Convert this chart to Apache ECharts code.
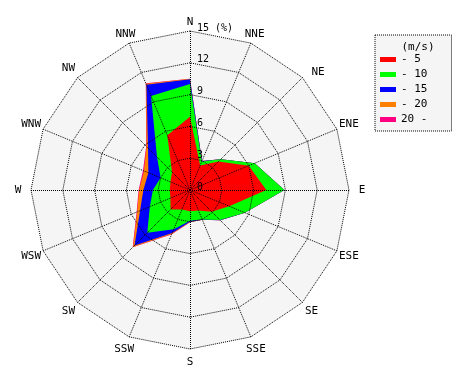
<!DOCTYPE html>
<html><head><meta charset="utf-8">
<script src="https://cdn.jsdelivr.net/npm/echarts@6/dist/echarts.min.js"></script>
<style>html,body{margin:0;padding:0;background:#fff}#c{width:470px;height:380px}</style>
</head><body><div id="c"></div>
<script>
// Compass directions, clockwise from North
const directions = ['N','NNE','NE','ENE','E','ESE','SE','SSE','S','SSW','SW','WSW','W','WNW','NW','NNW'];
const ringTicks = [0, 3, 6, 9, 12, 15];
const speedClasses = ['- 5', '- 10', '- 15', '- 20', '20 -'];
const classColors = ['#ff0000', '#00ff00', '#0000ff', '#ff8000', '#ff0080'];
// Cumulative frequency (%) of wind with speed up to each class limit, per direction
const cumUpTo5  = [6.9, 2.5, 3.8, 6.0, 7.2, 4.0, 2.9, 2.1, 2.0, 2.0, 2.6, 2.0, 1.9, 2.0, 2.4, 5.6];
const cumUpTo10 = [10.0, 2.9, 4.1, 6.6, 8.9, 5.6, 4.0, 3.0, 2.9, 4.0, 5.7, 4.1, 3.5, 3.0, 4.4, 9.6];
const cumUpTo15 = [10.45, 2.95, 4.1, 6.6, 8.9, 5.6, 4.05, 3.05, 3.0, 4.4, 7.4, 5.1, 4.4, 4.25, 5.6, 10.75];
const cumUpTo20 = [10.5, 2.95, 4.1, 6.6, 8.9, 5.6, 4.05, 3.05, 3.05, 4.5, 7.6, 5.4, 4.8, 4.7, 5.8, 10.85];
const cumAll    = [10.5, 2.95, 4.1, 6.6, 8.9, 5.6, 4.05, 3.05, 3.05, 4.55, 7.65, 5.45, 4.85, 4.8, 5.85, 10.9];

const cumulative = [cumUpTo5, cumUpTo10, cumUpTo15, cumUpTo20, cumAll];
const FONT = 'DejaVu Sans Mono';
const rMax = ringTicks[ringTicks.length - 1];
const nSplit = ringTicks.length - 1;

// ECharts radar places indicators counter-clockwise; reorder so compass runs clockwise
const order = directions.map((d, i) => (directions.length - i) % directions.length);

function makeIndicators(mode) {
  return order.map((j, k) => {
    const name = directions[j];
    const ind = { name: name, min: 0, max: rMax };
    if (mode === 'names') {
      ind.nameGap = (name === 'N') ? 9 : (name === 'NNE' || name === 'NNW') ? 10 : 13;
      if (name === 'NE') {
        ind.nameGap = 7;
        ind.nameTextStyle = { align: 'left', padding: [3, 0, 0, 4] };
      }
    }
    if (mode === 'labels' && k === 0) {
      ind.axisLabel = {
        show: true, color: '#000', fontFamily: FONT, fontSize: 10,
        margin: -7, align: 'left', verticalAlign: 'bottom', lineHeight: 6,
        showMinLabel: true, showMaxLabel: true,
        formatter: v => (v === rMax ? v + ' (%)' : String(v))
      };
    }
    return ind;
  });
}

const seriesData = [];
for (let c = cumulative.length - 1; c >= 0; c--) {
  seriesData.push({
    name: speedClasses[c],
    value: order.map(j => cumulative[c][j]),
    itemStyle: { color: classColors[c] },
    lineStyle: { width: 0, color: classColors[c] },
    areaStyle: { color: classColors[c], opacity: 1 },
    symbol: 'none'
  });
}

const dotted = { color: '#000', type: [1, 1], width: 1, cap: 'butt' };
const common = { center: [190, 190], radius: 159, startAngle: 90, shape: 'polygon', splitNumber: nSplit };

const chart = echarts.init(document.getElementById('c'), null, { renderer: 'canvas' });
chart.setOption({
  animation: false,
  backgroundColor: '#fff',
  title: {
    text: '(m/s)', left: 413, top: 37, textAlign: 'center',
    textStyle: { fontFamily: FONT, fontSize: 11, fontWeight: 'normal', color: '#000' }
  },
  legend: {
    orient: 'vertical', left: 375, top: 35,
    data: speedClasses,
    icon: 'rect', itemWidth: 16, itemHeight: 5, itemGap: 4,
    padding: [19, 24, 6, 5],
    backgroundColor: '#f5f5f5', borderColor: '#000', borderWidth: 1, borderType: 'dotted',
    textStyle: { fontFamily: FONT, fontSize: 11, color: '#000' },
    selectedMode: false
  },
  radar: [
    Object.assign({}, common, {
      // background panel (below the data)
      z: 0,
      indicator: makeIndicators('bg'),
      axisName: { show: false },
      axisLine: { show: false },
      splitLine: { show: false },
      splitArea: { show: true, areaStyle: { color: ['#f5f5f5'] } },
      axisLabel: { show: false },
      axisTick: { show: false }
    }),
    Object.assign({}, common, {
      // grid lines and direction names (above the data)
      z: 5,
      indicator: makeIndicators('names'),
      axisName: { color: '#000', fontFamily: FONT, fontSize: 11, align: 'center', verticalAlign: 'middle', padding: [3, 0, 0, 0] },
      axisLine: { show: true, lineStyle: dotted },
      splitLine: { show: true, lineStyle: dotted },
      splitArea: { show: false },
      axisLabel: { show: false },
      axisTick: { show: false }
    }),
    Object.assign({}, common, {
      // ring value labels on the north axis
      z: 6,
      indicator: makeIndicators('labels'),
      axisName: { show: false },
      axisLine: { show: false },
      splitLine: { show: false },
      splitArea: { show: false },
      axisLabel: { show: false },
      axisTick: { show: false }
    })
  ],
  series: [{
    type: 'radar',
    radarIndex: 0,
    silent: true,
    z: 2,
    data: seriesData
  }]
});
</script>
</body></html>
